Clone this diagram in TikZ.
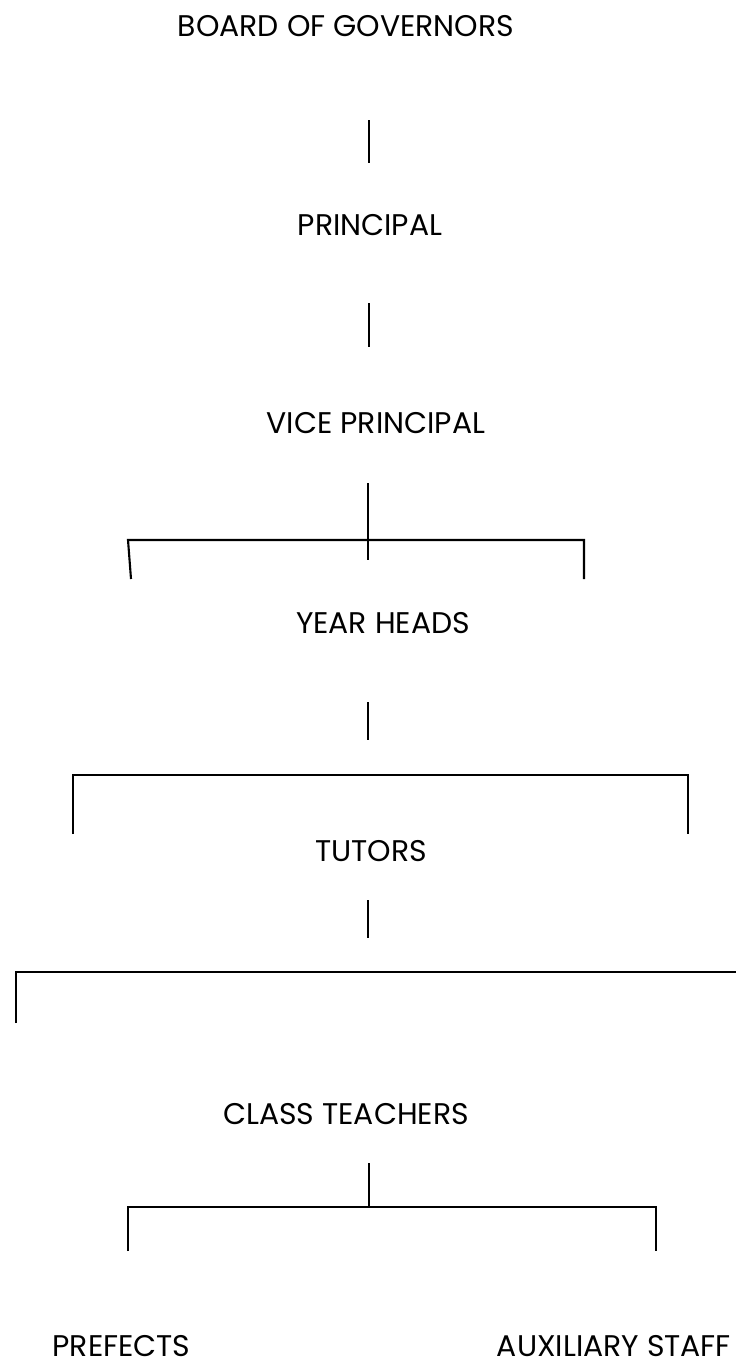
\documentclass[tikz,border=0pt]{standalone}
\usepackage{fontspec}
\setmainfont{Poppins}
\usepackage{tikz}
\usetikzlibrary{positioning}

\begin{document}
\begin{tikzpicture}[
    x=0.02cm, y=-0.02cm,
    post/.style={inner sep=0pt, font=\fontsize{17}{20}\selectfont},
    link/.style={line width=1.2pt}
]
\useasboundingbox (0,0) rectangle (736,1366);

% Nodes
\node (board) [post] at (346,26.5) {BOARD OF GOVERNORS};
\node (principal) [post] at (370,225.5) {PRINCIPAL};
\node (vice) [post] at (376,423.5) {VICE PRINCIPAL};
\node (year) [post] at (383,623) {YEAR HEADS};
\node (tutors) [post] at (371,851) {TUTORS};
\node (class) [post] at (346,1114) {CLASS TEACHERS};
\node (prefects) [post] at (121.5,1346) {PREFECTS};
\node (aux) [post] at (614,1346) {AUXILIARY STAFF};

% Bar corners
\coordinate (a1) at (369,120);  \coordinate (a2) at (369,163);
\coordinate (b1) at (369,303);  \coordinate (b2) at (369,347);
\coordinate (c1) at (368,483);  \coordinate (c2) at (368,560);
\coordinate (cl) at (128,540);  \coordinate (cr) at (584,540);
\coordinate (d1) at (368,702);  \coordinate (d2) at (368,740);
\coordinate (el) at (73,775);   \coordinate (er) at (688,775);
\coordinate (f1) at (368,900);  \coordinate (f2) at (368,938);
\coordinate (gl) at (16,972);   \coordinate (gr) at (736,972);
\coordinate (h1) at (369,1163); \coordinate (h2) at (369,1207);
\coordinate (hl) at (128,1207); \coordinate (hr) at (656,1207);

% Lines
\draw [link] (a1) -- (a2);
\draw [link] (b1) -- (b2);
\draw [link] (c1) -- (c2);
\draw [link] (131,579) -- (cl) -- (cr) -- (584,579);
\draw [link] (d1) -- (d2);
\draw [link] (73,834) -- (el) -- (er) -- (688,834);
\draw [link] (f1) -- (f2);
\draw [link] (16,1023) -- (gl) -- (gr);
\draw [link] (h1) -- (h2);
\draw [link] (128,1251) -- (hl) -- (hr) -- (656,1251);

\end{tikzpicture}
\end{document}
